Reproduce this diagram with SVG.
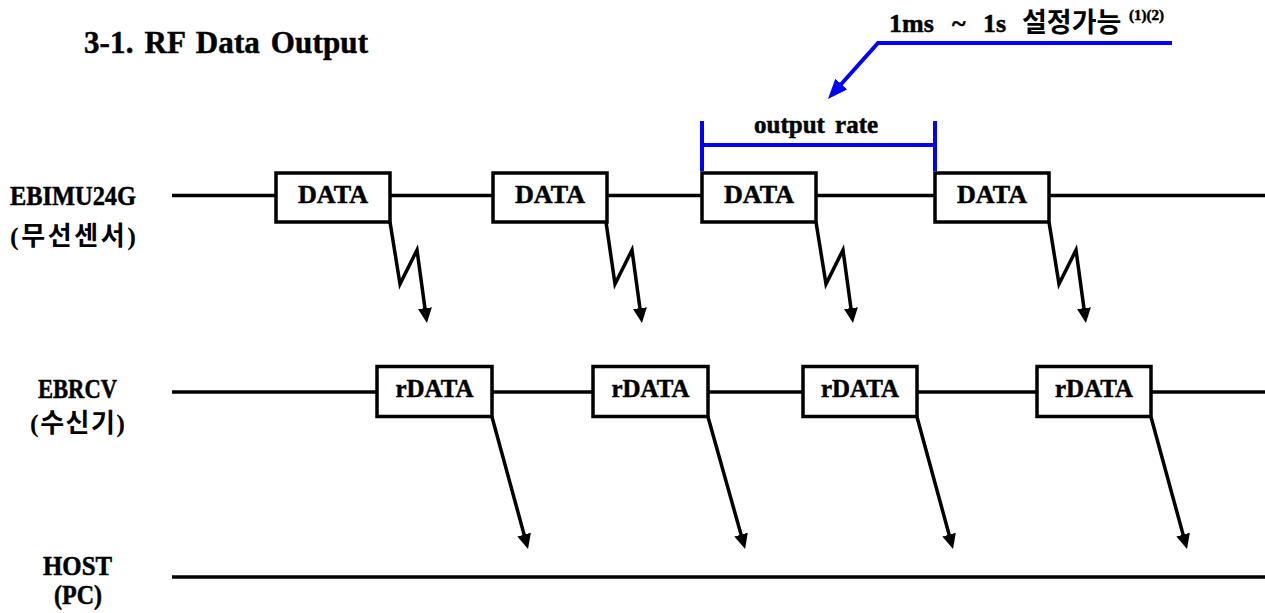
<svg xmlns="http://www.w3.org/2000/svg" width="1265" height="613" viewBox="0 0 1265 613">
<style>
.ser{font-family:"Liberation Serif","Noto Sans CJK KR",serif;font-weight:bold;fill:#000;stroke:#000;stroke-width:0.5}
.kr{font-family:"Liberation Serif","Noto Sans CJK KR",sans-serif;font-weight:bold;fill:#000}
.lane{stroke:#000;stroke-width:3.5;fill:none}
.box{fill:#fff;stroke:#000;stroke-width:3.5}
.lbl{font-family:"Liberation Serif",serif;font-weight:bold;font-size:26px;text-anchor:middle;fill:#000;stroke:#000;stroke-width:0.5}
.wire{stroke:#000;stroke-width:3.5;fill:none;stroke-linejoin:miter}
.blue{stroke:#0000ff;stroke-width:4;fill:none}
</style>
<defs>
<marker id="ah" markerUnits="userSpaceOnUse" viewBox="0 0 15 14" markerWidth="15" markerHeight="14" refX="5" refY="7" orient="auto">
<path d="M0,0 L15,7 L0,14 z" fill="#000"/>
</marker>
<marker id="bh" markerUnits="userSpaceOnUse" viewBox="0 0 20 16" markerWidth="20" markerHeight="16" refX="6" refY="8" orient="auto">
<path d="M0,0 L20,8 L0,16 z" fill="#0000ff"/>
</marker>
</defs>
<rect width="1265" height="613" fill="#fff"/>

<g id="title">
<text class="ser" x="84" y="53" font-size="31" word-spacing="3" textLength="284" lengthAdjust="spacing">3-1. RF Data Output</text>
</g>

<g id="rate-note">
<text class="ser" y="32" font-size="26"><tspan x="889">1ms</tspan><tspan x="952">~</tspan><tspan x="983">1s</tspan><tspan x="1022" font-family="Noto Sans CJK KR, sans-serif" font-size="27" stroke-width="0">설정가능</tspan><tspan x="1129" y="20" font-size="15">(1)(2)</tspan></text>
</g>

<g id="output-rate">
<text class="ser" x="754" y="133" font-size="25" word-spacing="4">output rate</text>
</g>

<g id="lanes">
<line class="lane" x1="172" y1="195.5" x2="1265" y2="195.5"/>
<line class="lane" x1="172" y1="392" x2="1265" y2="392"/>
<line class="lane" x1="172" y1="577" x2="1265" y2="577"/>
</g>

<g id="label-sensor">
<text class="ser" x="73" y="205" font-size="27" text-anchor="middle" textLength="126" lengthAdjust="spacingAndGlyphs">EBIMU24G</text>
<text class="kr" x="73" y="245" font-size="26" text-anchor="middle" textLength="126" lengthAdjust="spacing">(무선센서)</text>
</g>
<g id="label-receiver">
<text class="ser" x="77.5" y="398" font-size="27" text-anchor="middle" textLength="79" lengthAdjust="spacingAndGlyphs">EBRCV</text>
<text class="kr" x="77.5" y="432" font-size="26" text-anchor="middle" textLength="95" lengthAdjust="spacing">(수신기)</text>
</g>
<g id="label-host">
<text class="ser" x="77.5" y="575" font-size="27" text-anchor="middle" textLength="69" lengthAdjust="spacingAndGlyphs">HOST</text>
<text class="ser" x="78" y="604" font-size="27" text-anchor="middle" textLength="48" lengthAdjust="spacingAndGlyphs">(PC)</text>
</g>

<g id="data1"><rect class="box" x="276" y="173" width="114" height="49"/><text class="lbl" x="333" y="203" textLength="70" lengthAdjust="spacingAndGlyphs">DATA</text></g>
<g id="data2"><rect class="box" x="493" y="173" width="114" height="49"/><text class="lbl" x="550" y="203" textLength="70" lengthAdjust="spacingAndGlyphs">DATA</text></g>
<g id="data3"><rect class="box" x="702" y="173" width="114" height="49"/><text class="lbl" x="759" y="203" textLength="70" lengthAdjust="spacingAndGlyphs">DATA</text></g>
<g id="data4"><rect class="box" x="935" y="173" width="114" height="49"/><text class="lbl" x="992" y="203" textLength="70" lengthAdjust="spacingAndGlyphs">DATA</text></g>

<g id="rdata1"><rect class="box" x="377" y="366.5" width="115" height="50"/><text class="lbl" x="434.5" y="397" textLength="78" lengthAdjust="spacingAndGlyphs">rDATA</text></g>
<g id="rdata2"><rect class="box" x="593" y="366.5" width="115" height="50"/><text class="lbl" x="650.5" y="397" textLength="78" lengthAdjust="spacingAndGlyphs">rDATA</text></g>
<g id="rdata3"><rect class="box" x="803" y="366.5" width="114" height="50"/><text class="lbl" x="860" y="397" textLength="78" lengthAdjust="spacingAndGlyphs">rDATA</text></g>
<g id="rdata4"><rect class="box" x="1037" y="366.5" width="114" height="50"/><text class="lbl" x="1094" y="397" textLength="78" lengthAdjust="spacingAndGlyphs">rDATA</text></g>

<g id="connectors">
<path class="wire" marker-end="url(#ah)" d="M390,222 L400,284 L417,250 L425.6,313.1"/>
<path class="wire" marker-end="url(#ah)" d="M606,222 L615,284 L632,250 L640.6,313.1"/>
<path class="wire" marker-end="url(#ah)" d="M816,222 L826,284 L843,250 L851.6,313.1"/>
<path class="wire" marker-end="url(#ah)" d="M1049,222 L1059,284 L1076,250 L1084.6,313.1"/>

<path class="wire" marker-end="url(#ah)" d="M492,417 L525.4,539.4"/>
<path class="wire" marker-end="url(#ah)" d="M708,417 L742.4,539.4"/>
<path class="wire" marker-end="url(#ah)" d="M917,417 L950.4,539.4"/>
<path class="wire" marker-end="url(#ah)" d="M1151,417 L1184.4,539.4"/>

<path class="blue" marker-end="url(#bh)" d="M1172,43 L878,43 L837.3,88.5"/>
<path class="blue" d="M702,121 V171 M935,121 V171 M702,145 H935"/>
</g>
</svg>
